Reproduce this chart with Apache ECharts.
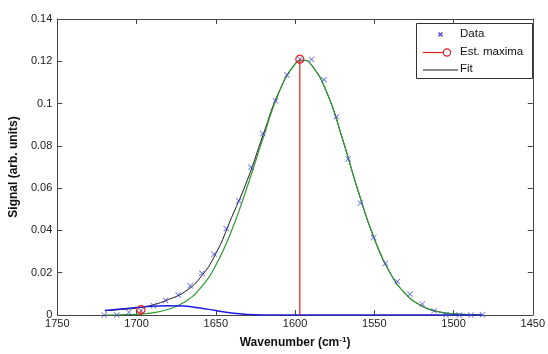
<!DOCTYPE html>
<html><head><meta charset="utf-8">
<script src="https://cdn.jsdelivr.net/npm/echarts@6/dist/echarts.min.js"></script>
<style>html,body{margin:0;padding:0;background:#fff}#c{width:548px;height:354px}</style>
</head><body><div id="c"></div>
<script>
// Measured data (wavenumber, signal)
var dataX = [1720.4,1712.5,1704.8,1697.2,1689.3,1681.7,1673.8,1666.1,1658.7,1651.1,1643.4,1635.5,1627.8,1620.4,1612.3,1605.1,1597.0,1589.6,1581.7,1573.8,1566.5,1558.7,1550.4,1543.0,1535.5,1527.5,1519.7,1512.3,1504.7,1496.4,1489.1,1481.7];
var dataY = [0.0000,0.0000,0.0013,0.0020,0.0044,0.0069,0.0095,0.0138,0.0197,0.0288,0.0409,0.0540,0.0699,0.0858,0.1013,0.1135,0.1210,0.1209,0.1113,0.0938,0.0738,0.0529,0.0366,0.0244,0.0158,0.0099,0.0052,0.0020,0.0000,0.0000,0.0000,0.0001];
// Estimated maxima
var maxX = [1597.0, 1697.2];
var maxY = [0.1210, 0.0025];
// Fit curves sampled
var curveX = [1720,1710,1700,1690,1680,1670,1660,1650,1640,1630,1620,1610,1600,1595,1590,1580,1570,1560,1550,1540,1530,1520,1510,1500,1490,1482];
var fitY   = [0.0020,0.0026,0.0033,0.0047,0.0073,0.0108,0.0175,0.0290,0.0462,0.0640,0.0855,0.1058,0.1188,0.1205,0.1187,0.1054,0.0831,0.0582,0.0362,0.0199,0.0098,0.0043,0.0016,0.0006,0.0002,0.0001];
var peakY  = [0.0000,0.0001,0.0003,0.0010,0.0027,0.0060,0.0125,0.0235,0.0400,0.0610,0.0840,0.1055,0.1187,0.1205,0.1187,0.1054,0.0831,0.0582,0.0362,0.0199,0.0098,0.0043,0.0016,0.0006,0.0002,0.0001];
var baseY  = [0.0021,0.0028,0.0035,0.0041,0.0044,0.0042,0.0033,0.0021,0.0010,0.0002,0.0000,0.0000,0.0000,0.0000,0.0000,0.0000,0.0000,0.0000,0.0000,0.0000,0.0000,0.0000,0.0000,0.0000,0.0000,0.0000];
var xTicks = {min:1450, max:1750, interval:50};
var yTicks = {min:0, max:0.14, interval:0.02};

function zip(xs, ys){ return xs.map(function(x,i){return [x, ys[i]];}); }
var stemData = [];
maxX.forEach(function(x,i){
  stemData.push({value:[x,0], symbol:'none'});
  stemData.push({value:[x,maxY[i]], symbol:'circle'});
  stemData.push({value:['-','-'], symbol:'none'});
});

var FONT = '"Liberation Sans", Arial, sans-serif';
var cross = 'path://M0,1L1,0L5,4L9,0L10,1L6,5L10,9L9,10L5,6L1,10L0,9L4,5Z';
var axisCol = '#444';

var chart = echarts.init(document.getElementById('c'), null, {renderer:'canvas'});
chart.setOption({
  animation:false,
  backgroundColor:'#fff',
  grid:{left:54, right:11, top:19, bottom:37, containLabel:false},
  xAxis:[{
    type:'value', inverse:true, min:xTicks.min, max:xTicks.max, interval:xTicks.interval, position:'bottom',
    axisLine:{show:true, lineStyle:{color:axisCol, width:1}},
    axisTick:{show:true, inside:true, length:5, lineStyle:{color:axisCol}},
    axisLabel:{margin:3, color:'#222', fontSize:11, fontFamily:FONT, formatter:function(v){return String(v);}},
    splitLine:{show:false},
    name:'Wavenumber (cm{s|-1})', nameLocation:'middle', nameGap:21,
    nameTextStyle:{fontFamily:FONT, fontWeight:'bold', fontSize:12, color:'#111',
      rich:{s:{fontSize:8, fontWeight:'bold', fontFamily:FONT, color:'#111', verticalAlign:'top', padding:[0,0,6,0]}}}
  },{
    type:'value', inverse:true, min:xTicks.min, max:xTicks.max, interval:xTicks.interval, position:'top',
    axisLine:{show:true, onZero:false, lineStyle:{color:axisCol, width:1}},
    axisTick:{show:true, inside:true, length:5, lineStyle:{color:axisCol}},
    axisLabel:{show:false}, splitLine:{show:false}
  }],
  yAxis:[{
    type:'value', min:yTicks.min, max:yTicks.max, interval:yTicks.interval, position:'left',
    axisLine:{show:true, lineStyle:{color:axisCol, width:1}},
    axisTick:{show:true, inside:true, length:5, lineStyle:{color:axisCol}},
    axisLabel:{margin:5, color:'#222', fontSize:11, fontFamily:FONT},
    splitLine:{show:false},
    name:'Signal (arb. units)', nameLocation:'middle', nameGap:29, nameRotate:90,
    nameTextStyle:{fontFamily:FONT, fontWeight:'bold', fontSize:12, color:'#111'}
  },{
    type:'value', min:yTicks.min, max:yTicks.max, interval:yTicks.interval, position:'right',
    axisLine:{show:true, onZero:false, lineStyle:{color:axisCol, width:1}},
    axisTick:{show:true, inside:true, length:5, lineStyle:{color:axisCol}},
    axisLabel:{show:false}, splitLine:{show:false}
  }],
  series:[
    {name:'Fit', type:'line', smooth:true, symbol:'none', data:zip(curveX, fitY),
     lineStyle:{color:'#1a1a1a', width:1}, z:2},
    {name:'Peak', type:'line', smooth:true, symbol:'none', data:zip(curveX, peakY),
     lineStyle:{color:'#2f9a2f', width:1.2}, z:3},
    {name:'Baseline', type:'line', smooth:true, symbol:'none', data:zip(curveX, baseY),
     lineStyle:{color:'#1c1ce0', width:1.5}, z:4},
    {name:'Data', type:'scatter', symbol:cross, symbolSize:6, data:zip(dataX, dataY),
     itemStyle:{color:'#4a4ae0'}, z:5},
    {name:'Est. maxima', type:'line', data:stemData, connectNulls:false, symbolSize:8, showSymbol:true,
     lineStyle:{color:'#e02020', width:1.2},
     itemStyle:{color:'transparent', borderColor:'#e02020', borderWidth:1.2}, z:6}
  ],
  graphic:[
    {type:'rect', left:416, top:23, z:100, shape:{width:116, height:55},
     style:{fill:'#fff', stroke:'#333', lineWidth:1}},
    {type:'polygon', z:101, shape:{points:[[438,33],[439,32],[440.5,33.5],[442,32],[443,33],[441.5,34.5],[443,36],[442,37],[440.5,35.5],[439,37],[438,36],[439.5,34.5]]},
     style:{fill:'#4a4ae0'}},
    {type:'text', z:101, left:460, top:28, style:{text:'Data', font:'11.5px '+FONT, fill:'#111'}},
    {type:'line', z:101, shape:{x1:423, y1:52.5, x2:443, y2:52.5}, style:{stroke:'#e02020', lineWidth:1.2}},
    {type:'circle', z:101, shape:{cx:447, cy:52.5, r:3.6}, style:{fill:'none', stroke:'#e02020', lineWidth:1.2}},
    {type:'text', z:101, left:460, top:46, style:{text:'Est. maxima', font:'11.5px '+FONT, fill:'#111'}},
    {type:'line', z:101, shape:{x1:423, y1:70, x2:458, y2:70}, style:{stroke:'#1a1a1a', lineWidth:1}},
    {type:'text', z:101, left:460, top:63, style:{text:'Fit', font:'11.5px '+FONT, fill:'#111'}}
  ]
});
</script></body></html>
